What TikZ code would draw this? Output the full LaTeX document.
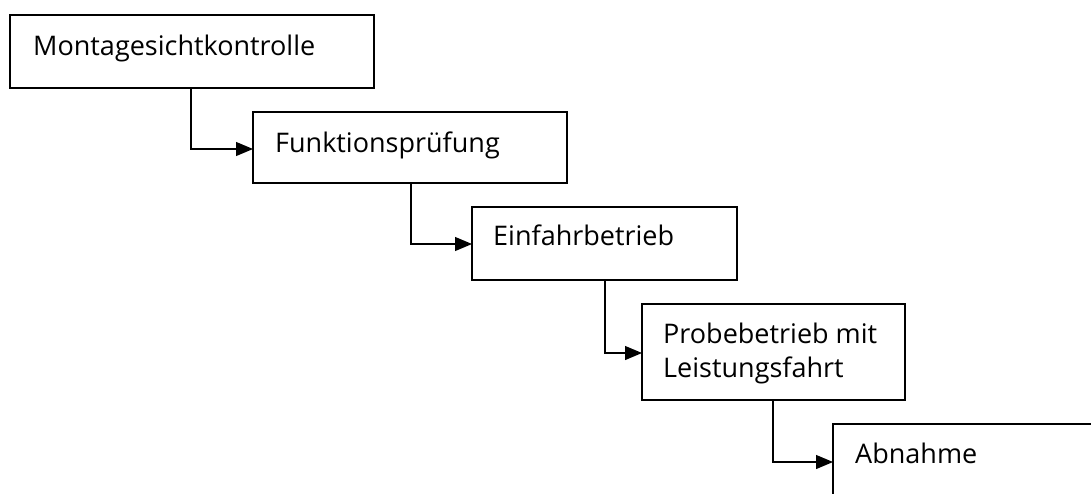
\documentclass[tikz,border=0pt]{standalone}
\usepackage{fontspec}
\setmainfont{Open Sans}
\usetikzlibrary{arrows.meta}
\begin{document}
\begin{tikzpicture}[x=1pt,y=-1pt,
  box/.style={draw=black,line width=1.3pt,rectangle,anchor=north west,inner sep=0pt,outer sep=0pt},
  lbl/.style={anchor=base west,inner sep=0pt,font=\fontsize{27}{34}\selectfont,align=left},
  arr/.style={draw=black,line width=1.2pt,-{Triangle[length=17pt,width=14pt]}}]
\useasboundingbox (0,0) rectangle (1091,493);
\clip (0,0) rectangle (1091,493);
\node[box,minimum width=364pt,minimum height=73pt] (b1) at (10,15) {};
\node[box,minimum width=314pt,minimum height=71pt] (b2) at (253,112) {};
\node[box,minimum width=265pt,minimum height=73pt] (b3) at (472,207) {};
\node[box,minimum width=263pt,minimum height=96pt] (b4) at (642,304) {};
\node[box,minimum width=320pt,minimum height=120pt] (b5) at (833,424) {};
\node[lbl] (t1) at (33,55) {Montagesichtkontrolle};
\node[lbl] (t2) at (275,152) {Funktionsprüfung};
\node[lbl] (t3) at (493,245) {Einfahrbetrieb};
\node[lbl] (t4) at (663,343) {Probebetrieb mit};
\node[lbl] (t4b) at (663,377) {Leistungsfahrt};
\node[lbl] (t5) at (855,463) {Abnahme};
\draw[arr] ([xshift=181pt]b1.south west) |- ([yshift=-37pt]b2.north west);
\draw[arr] ([xshift=158pt]b2.south west) |- ([yshift=-37pt]b3.north west);
\draw[arr] ([xshift=133pt]b3.south west) |- ([yshift=-49pt]b4.north west);
\draw[arr] ([xshift=131pt]b4.south west) |- ([yshift=-38pt]b5.north west);
\end{tikzpicture}
\end{document}
